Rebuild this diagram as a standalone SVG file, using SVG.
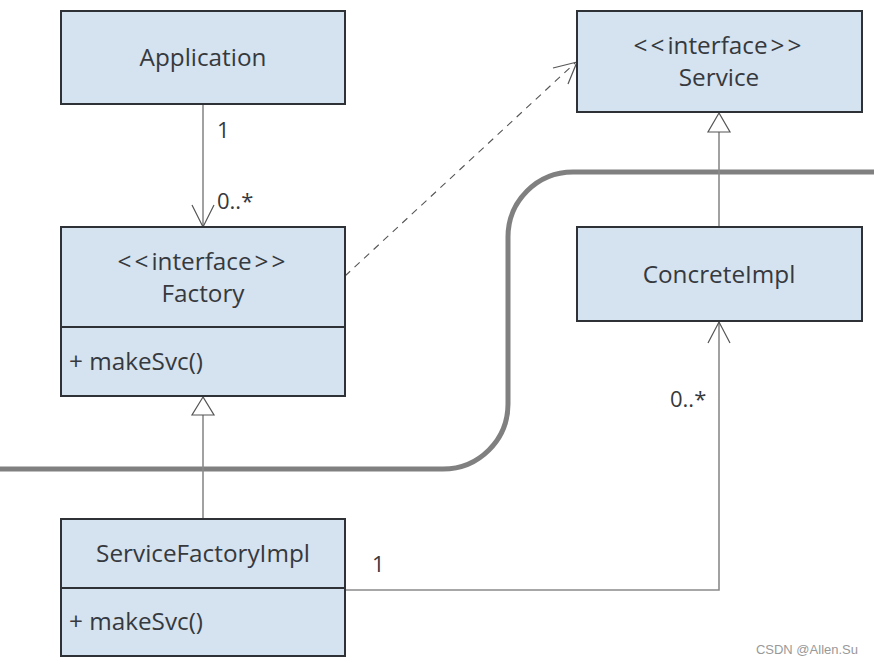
<svg xmlns="http://www.w3.org/2000/svg" width="874" height="666" viewBox="0 0 874 666">
<style>
.box{fill:#d5e2ef;stroke:#2e3236;stroke-width:2}
.t{font-family:"Open Sans","Noto Sans","Liberation Sans",sans-serif;font-size:24.3px;fill:#36393d}
.c{text-anchor:middle}
.br{letter-spacing:3px}
.lbl{font-family:"Open Sans","Noto Sans","Liberation Sans",sans-serif;font-size:22px;fill:#36393d}
.ln{fill:none;stroke:#8a8a8a;stroke-width:1.6}
.arm{fill:none;stroke:#555;stroke-width:1.2}
.tri{fill:#fff;stroke:#555;stroke-width:1.2}
</style>
<rect width="874" height="666" fill="#fff"/>
<path d="M0,469 H443 A65,65 0 0 0 508,404 V237 A65,65 0 0 1 573,172 H874" fill="none" stroke="#808080" stroke-width="5"/>
<g id="connectors">
<line class="ln" x1="203" y1="105" x2="203" y2="226"/>
<polyline class="arm" points="192,205 203,227 214,205"/>
<line x1="345" y1="276" x2="575" y2="63" stroke="#555" stroke-width="1.1" stroke-dasharray="7,6" fill="none"/>
<polyline class="arm" points="553,68 577,62 568,84"/>
<line class="ln" x1="203" y1="415" x2="203" y2="519"/>
<polygon class="tri" points="203,397 192,415 214,415"/>
<line class="ln" x1="719" y1="132" x2="719" y2="227"/>
<polygon class="tri" points="719,113 708,132 730,132"/>
<polyline class="ln" points="345,590 719,590 719,322"/>
<polyline class="arm" points="708,343 719,322 730,343"/>
<text class="lbl" x="217" y="138">1</text>
<text class="lbl" x="217" y="209">0..*</text>
<text class="lbl" x="372" y="572">1</text>
<text class="lbl" x="670" y="407">0..*</text>
</g>
<g id="application">
<rect class="box" x="61" y="11" width="284" height="93"/>
<text class="t c" x="203" y="66">Application</text>
</g>
<g id="factory">
<rect class="box" x="61" y="227" width="284" height="100"/>
<rect class="box" x="61" y="327" width="284" height="69"/>
<text class="t c" x="203" y="270"><tspan class="br">&lt;&lt;</tspan>interface<tspan class="br" dx="3">&gt;&gt;</tspan></text>
<text class="t c" x="203" y="302">Factory</text>
<text class="t" x="69" y="370">+ makeSvc()</text>
</g>
<g id="service">
<rect class="box" x="577" y="11" width="285" height="101"/>
<text class="t c" x="719" y="54"><tspan class="br">&lt;&lt;</tspan>interface<tspan class="br" dx="3">&gt;&gt;</tspan></text>
<text class="t c" x="719" y="86">Service</text>
</g>
<g id="concreteimpl">
<rect class="box" x="577" y="227" width="285" height="94"/>
<text class="t c" x="719" y="283">ConcreteImpl</text>
</g>
<g id="servicefactoryimpl">
<rect class="box" x="61" y="519" width="284" height="69"/>
<rect class="box" x="61" y="588" width="284" height="68"/>
<text class="t c" x="203" y="562">ServiceFactoryImpl</text>
<text class="t" x="69" y="630">+ makeSvc()</text>
</g>
<text x="858" y="654" text-anchor="end" font-family="Liberation Sans, Arial, sans-serif" font-size="13" fill="#999">CSDN @Allen.Su</text>
</svg>
